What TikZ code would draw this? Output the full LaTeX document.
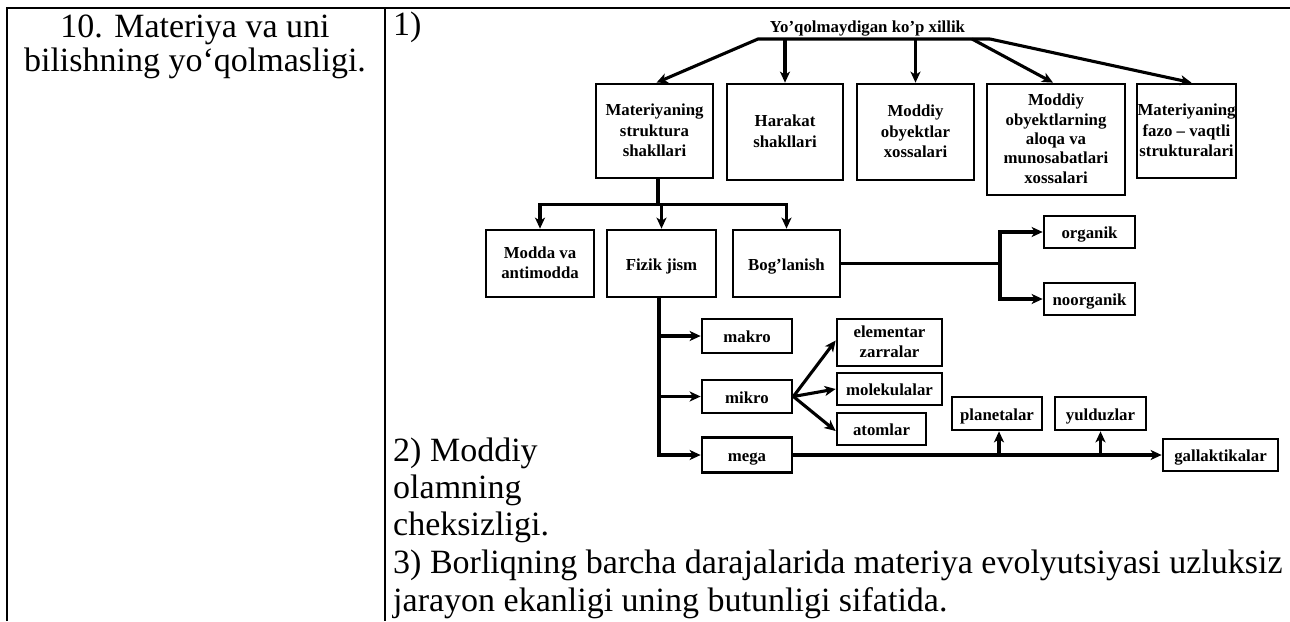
\documentclass[tikz,border=0pt]{standalone}
\usepackage{fontspec}
\setmainfont{Liberation Serif}
\usetikzlibrary{arrows.meta}
\newcommand\tp{\rule{0pt}{14pt}}
\newcommand\bt{\rule[-4pt]{0pt}{4pt}}
\begin{document}
\begin{tikzpicture}[x=1pt,y=-1pt,
  bx/.style={draw, line width=2.7pt, inner sep=0pt, align=center,
    font=\bfseries\fontsize{16.8}{20.5}\selectfont},
  one/.style={text height=15.5pt, text depth=2.5pt},
  conn/.style={line width=3.1pt},
  arr/.style={line width=3.1pt, -{Stealth[length=11pt,width=10pt,inset=3pt]}},
  tbl/.style={line width=2pt},
  bigtxt/.style={inner sep=0pt, font=\fontsize{34}{37.5}\selectfont},
  ttl/.style={inner sep=0pt, font=\bfseries\fontsize{16.8}{20.5}\selectfont}]
\useasboundingbox (0,0) rectangle (1290,621);
% table frame
\coordinate (tBL) at (7,621);
\coordinate (tTL) at (7,8);
\coordinate (tTR) at (1290,8);
\coordinate (tDT) at (385,8);
\coordinate (tDB) at (385,621);
\draw[tbl] (tBL) -- (tTL) -- (tTR);
\draw[tbl] (tDT) -- (tDB);
% left cell
\node[bigtxt, anchor=base] (L1) at (195,37) {10. Materiya va uni};
\node[bigtxt, anchor=base] (L2) at (195,71) {bilishning yo‘qolmasligi.};
% right cell texts
\node[bigtxt, anchor=base west] (R1) at (393,35) {1)};
\node[bigtxt, anchor=base west] (R2) at (393,461) {2) Moddiy};
\node[bigtxt, anchor=base west] (R3) at (393,498) {olamning};
\node[bigtxt, anchor=base west] (R4) at (393,535) {cheksizligi.};
\node[bigtxt, anchor=base west] (R5) at (393,573) {3) Borliqning barcha darajalarida materiya evolyutsiyasi uzluksiz};
\node[bigtxt, anchor=base west] (R6) at (393,611) {jarayon ekanligi uning butunligi sifatida.};
% title
\node[ttl, anchor=base] (T) at (867.5,32) {Yo’qolmaydigan ko’p xillik};
\coordinate (bL) at (758,39);
\coordinate (bR) at (990,39);
\coordinate (bD) at (972,39);
% row 1
\node[bx, minimum width=117pt, minimum height=94pt] (A) at (654.5,131) {\tp Materiyaning\\struktura\\shakllari\bt};
\node[bx, minimum width=116pt, minimum height=96pt] (B) at (785,132) {\tp Harakat\\shakllari\bt};
\node[bx, minimum width=117pt, minimum height=96pt] (C) at (915.5,132) {\tp Moddiy\\obyektlar\\xossalari\bt};
\node[bx, minimum width=138pt, minimum height=111pt, font=\bfseries\fontsize{16.8}{19.3}\selectfont] (D) at (1056,139.5) {\tp Moddiy\\obyektlarning\\aloqa va\\munosabatlari\\xossalari\bt};
\node[bx, minimum width=99pt, minimum height=94pt] (E) at (1186.5,131) {\tp Materiyaning\\fazo – vaqtli\\strukturalari\bt};
\draw[arr] (bR) -- (bL) -- ([xshift=2pt]A.north);
\draw[arr] (B.north |- bL) -- (B.north);
\draw[arr] (C.north |- bL) -- (C.north);
\draw[arr] (bD) -- ([xshift=-3pt]D.north);
\draw[arr] (bR) -- ([xshift=5pt]E.north);
% row 2
\node[bx, minimum width=108pt, minimum height=67pt, font=\bfseries\fontsize{16.8}{20}\selectfont] (Mod) at (540,263.5) {\tp Modda va\\antimodda\bt};
\node[bx, one, minimum width=109pt, minimum height=67pt] (Fiz) at (661.5,263.5) {Fizik jism};
\node[bx, one, minimum width=107pt, minimum height=67pt] (Bog) at (786.5,263.5) {Bog’lanish};
\draw[conn] ([xshift=3.5pt]A.south) -- ++(0,25) coordinate (jM);
\draw[arr] (jM) -| (Mod.north);
\draw[arr] (jM) -| (Bog.north);
\draw[arr] (Fiz.north |- jM) -- (Fiz.north);
% organik
\node[bx, one, minimum width=91pt, minimum height=32pt] (Org) at (1089.5,232) {organik};
\node[bx, one, minimum width=91pt, minimum height=32pt] (Noo) at (1089.5,299) {noorganik};
\coordinate (jB) at (1000,263.5);
\draw[conn] (Bog.east) -- (jB);
\draw[arr] (jB) |- (Org.west);
\draw[arr] (jB) |- (Noo.west);
% makro mikro mega
\node[bx, one, minimum width=90pt, minimum height=34pt] (Mak) at (747,336) {makro};
\node[bx, one, minimum width=90pt, minimum height=33pt] (Mik) at (747,396.5) {mikro};
\node[bx, one, minimum width=90pt, minimum height=35pt] (Meg) at (747,455) {mega};
\draw[arr] ([xshift=-2.5pt]Fiz.south) |- (Mak.west);
\draw[arr] ([xshift=-2.5pt]Fiz.south) |- (Mik.west);
\draw[arr] ([xshift=-2.5pt]Fiz.south) |- (Meg.west);
% mikro children
\node[bx, minimum width=105pt, minimum height=47pt, font=\bfseries\fontsize{16.8}{20}\selectfont] (Ele) at (889.5,342.5) {\tp elementar\\zarralar\bt};
\node[bx, one, minimum width=105pt, minimum height=32pt] (Mol) at (889.5,389) {molekulalar};
\node[bx, one, minimum width=89pt, minimum height=32pt] (Ato) at (881.5,429) {atomlar};
\draw[arr] (Mik.east) -- ([yshift=2pt]Ele.west);
\draw[arr] (Mik.east) -- (Mol.west);
\draw[arr] (Mik.east) -- ([yshift=-2pt]Ato.west);
% mega children
\node[bx, one, minimum width=115pt, minimum height=32pt] (Gal) at (1220.5,455) {gallaktikalar};
\node[bx, one, minimum width=90pt, minimum height=33pt] (Pla) at (997,413.5) {planetalar};
\node[bx, one, minimum width=91pt, minimum height=33pt] (Yul) at (1100.5,413.5) {yulduzlar};
\draw[arr] (Meg.east) -- (Gal.west);
\draw[arr] ([xshift=2pt]Pla.south |- Meg.east) -- ([xshift=2pt]Pla.south);
\draw[arr] (Yul.south |- Meg.east) -- (Yul.south);
\end{tikzpicture}
\end{document}
